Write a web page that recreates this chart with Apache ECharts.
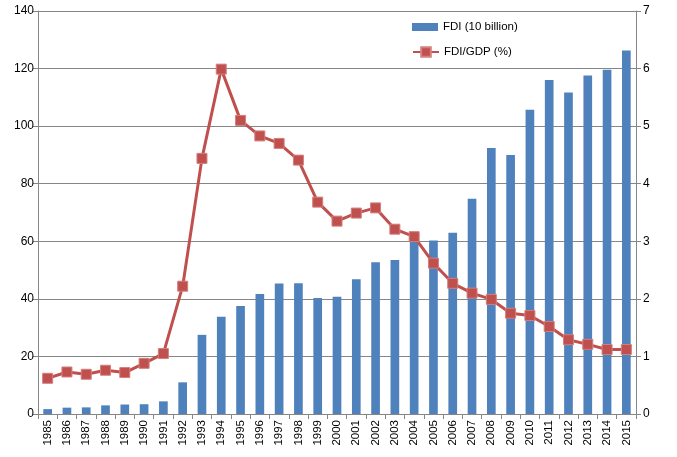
<!DOCTYPE html>
<html>
<head>
<meta charset="utf-8">
<script src="https://cdn.jsdelivr.net/npm/echarts@6/dist/echarts.min.js"></script>
<style>html,body{margin:0;padding:0;background:#fff}#c{width:677px;height:457px}</style>
</head>
<body>
<div id="c"></div>
<script>
const years = ['1985','1986','1987','1988','1989','1990','1991','1992','1993','1994','1995','1996','1997','1998','1999','2000','2001','2002','2003','2004','2005','2006','2007','2008','2009','2010','2011','2012','2013','2014','2015'];
const fdi = [1.7,2.2,2.3,3.0,3.3,3.4,4.4,11.0,27.5,33.8,37.5,41.7,45.3,45.4,40.3,40.7,46.8,52.7,53.5,60.6,60.3,63.0,74.8,92.4,90.0,105.7,116.0,111.7,117.6,119.6,126.3];
const ratio = [0.62,0.73,0.69,0.76,0.72,0.88,1.05,2.22,4.44,5.99,5.10,4.83,4.70,4.41,3.68,3.35,3.49,3.58,3.21,3.08,2.62,2.27,2.10,1.99,1.75,1.71,1.52,1.29,1.21,1.12,1.12];
const leftTicks = {min:0,max:140,interval:20};
const rightTicks = {min:0,max:7,interval:1};

const chart = echarts.init(document.getElementById('c'), null, {renderer:'canvas'});
const font = 'Liberation Sans';
chart.setOption({
  animation:false,
  backgroundColor:'#fff',
  textStyle:{fontFamily:font},
  grid:{left:38,right:41,top:11,bottom:43},
  legend:[{
    orient:'vertical', left:412, top:21, padding:0, itemWidth:26, itemHeight:8,
    textStyle:{fontFamily:font,fontSize:11.5,color:'#000'},
    data:[{name:'FDI (10 billion)',icon:'rect'}]
  },{
    orient:'vertical', left:412, top:46, padding:0, itemWidth:26, itemHeight:12,
    textStyle:{fontFamily:font,fontSize:11.5,color:'#000'},
    data:[{name:'FDI/GDP (%)'}]
  }],
  xAxis:{
    type:'category', data:years, boundaryGap:true,
    axisLine:{lineStyle:{color:'#868686',width:1}},
    axisTick:{show:true,length:5,lineStyle:{color:'#868686'}},
    axisLabel:{rotate:90,fontSize:11.5,color:'#000',margin:6,interval:0,fontFamily:font}
  },
  yAxis:[{
    type:'value', min:leftTicks.min, max:leftTicks.max, interval:leftTicks.interval,
    axisLine:{show:true,lineStyle:{color:'#868686'}},
    axisTick:{show:true,length:5,lineStyle:{color:'#868686'}},
    axisLabel:{fontSize:12,color:'#000',margin:4,fontFamily:font},
    splitLine:{show:true,lineStyle:{color:'#868686',width:1}}
  },{
    type:'value', min:rightTicks.min, max:rightTicks.max, interval:rightTicks.interval, position:'right',
    axisLine:{show:true,lineStyle:{color:'#868686'}},
    axisTick:{show:true,length:5,lineStyle:{color:'#868686'}},
    axisLabel:{fontSize:12,color:'#000',margin:7,fontFamily:font},
    splitLine:{show:false}
  }],
  series:[{
    name:'FDI (10 billion)', type:'bar', data:fdi, yAxisIndex:0, barWidth:'45%',
    itemStyle:{color:'#4F81BD'}
  },{
    name:'FDI/GDP (%)', type:'line', data:ratio, yAxisIndex:1,
    symbol:'rect', symbolSize:10, showSymbol:true,
    lineStyle:{color:'#C0504D',width:3},
    itemStyle:{color:'#C0504D',borderColor:'#D27F7D',borderWidth:1}
  }]
});
</script>
</body>
</html>
